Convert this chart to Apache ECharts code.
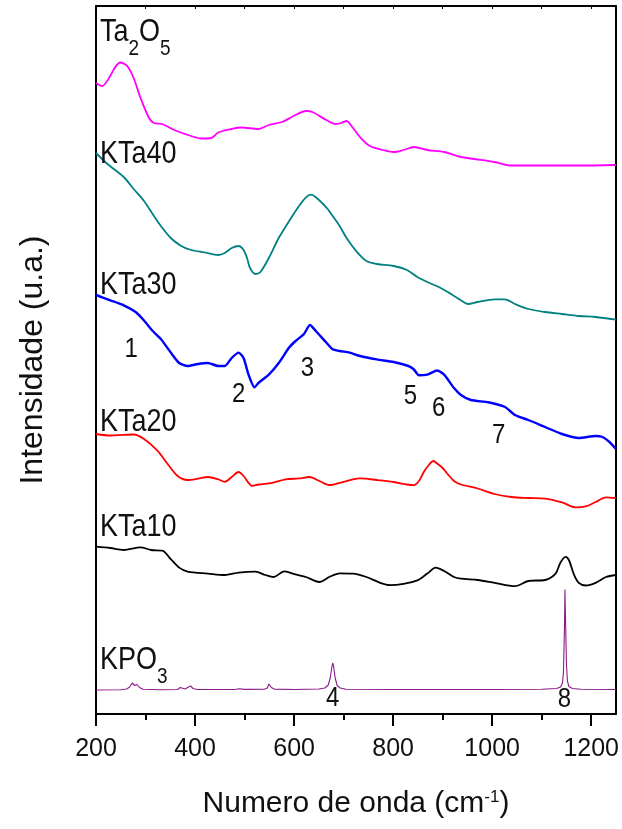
<!DOCTYPE html>
<html>
<head>
<meta charset="utf-8">
<script src="https://cdn.jsdelivr.net/npm/echarts@6/dist/echarts.min.js"></script>
<style>
  html, body { margin: 0; padding: 0; background: #ffffff; }
  #chart { width: 622px; height: 829px; }
</style>
</head>
<body>
<div id="chart"></div>
<script>
// Raman spectra, stacked with vertical offsets (arbitrary units).
// Each entry: [wavenumber (cm-1), intensity (u.a.)]
const ta2o5 = [[200,631],[212,628],[249,651.5],[263,648],[276,636],[290,616],[307,596],[317,591],[334,590],[358,584],[392,578],[413,575.5],[433,576],[447,581.5],[474,585],[494,586.5],[528,585],[549,589],[576,592],[597,597.5],[624,603],[637,602],[665,594],[685,590],[695,591],[706,593],[716,588],[733,577],[753,568],[780,564],[801,562],[821,564],[842,567],[869,564],[903,562],[937,557],[1005,552],[1039,548.5],[1107,548.5],[1175,548.5],[1250,549]];

const kta40 = [[200,561],[222,550.5],[256,537],[276,525],[297,513],[317,498],[331,488],[351,476],[372,468],[392,464],[419,461.6],[447,459],[460,461],[474,466],[488,468],[498,464],[505,456],[511,446],[522,440],[532,442],[549,456],[569,476],[590,493],[610,508],[624,516.7],[634,519.4],[644,516.7],[665,506.6],[678,498],[692,488],[706,476],[726,462.6],[746,453],[767,450],[801,448],[828,444],[849,437],[869,432],[896,426],[917,420],[937,413.7],[951,410],[971,412],[1005,414.7],[1026,414.7],[1046,410],[1073,405],[1107,402],[1141,400],[1175,398],[1209,397],[1250,394.4]];

const kta30 = [[200,419],[229,413.7],[256,408.7],[280,402],[297,393.5],[314,383.3],[331,375],[351,361.4],[368,351],[385,348],[406,350],[426,351],[447,348],[460,348],[474,356],[488,361.4],[498,356],[508,339.4],[520,326.6],[528,331],[549,339.4],[569,351],[590,366.4],[603,373],[620,380],[632,389],[644,383],[665,371.5],[678,364.7],[692,363],[712,361.4],[733,358],[767,354.6],[801,352],[831,348],[842,344.5],[852,338.7],[869,339.4],[889,343.5],[903,339.4],[923,326],[937,319],[957,314],[992,311.7],[1026,307],[1046,299],[1073,294],[1107,287],[1141,280],[1175,276],[1209,278],[1223,277],[1237,272],[1250,265]];

const kta20 = [[200,280],[229,278.5],[256,279.2],[276,279.5],[297,275],[324,263.3],[345,249.8],[365,238],[385,234],[406,235.3],[426,237],[447,234.6],[460,232.2],[474,237],[488,242],[498,238],[508,231.2],[515,228],[528,229.5],[556,231.2],[583,234.6],[610,235.6],[631,237],[651,233],[671,229],[692,231.2],[719,234.6],[733,235.6],[767,234],[801,232],[828,229.5],[842,228.9],[852,233],[862,242],[872,249],[881,253],[890,250],[900,246],[910,240],[923,233],[937,229.5],[971,225.5],[1005,220],[1039,217],[1073,216],[1107,215.4],[1141,211.6],[1169,206.6],[1189,207.6],[1209,212],[1230,216.7],[1250,216]];

const kta10 = [[200,167.4],[229,166],[256,164],[290,166.7],[311,164],[334,163.3],[351,154.9],[368,146.4],[385,142.4],[426,140.4],[460,139],[488,141.4],[522,142.4],[542,139],[559,137],[580,142.7],[597,140.4],[624,137],[651,132],[671,137],[692,140.7],[719,140.4],[746,137],[774,131.2],[794,128.9],[821,130.2],[849,133.6],[869,140.4],[886,146.4],[903,143],[923,137],[937,135.3],[971,134],[1005,131.2],[1046,127.9],[1073,133],[1107,134],[1128,140.4],[1138,151.5],[1148,157.2],[1155,154],[1165,139.7],[1175,131.2],[1189,128.5],[1209,131.2],[1230,137],[1250,139]];

const kpo3 = [[200,24],[250,24.3],[262,25],[268,27],[273,31],[278,28.5],[283,29.5],[288,26.5],[295,24.8],[330,24.3],[365,24.5],[370,26.5],[373,25.5],[380,25],[385,26.5],[391,28],[396,25.5],[405,24.5],[480,24.5],[490,25.2],[500,24.6],[540,24.8],[546,26],[549,30],[551,30.6],[554,26.5],[560,24.9],[600,24.5],[650,25],[662,26],[669,29],[673,36],[676,46],[678,51],[680,47],[683,36],[687,28.5],[693,26],[705,24.8],[800,24.5],[900,24.5],[1000,24.5],[1100,24.7],[1130,25.5],[1138,27],[1142,31],[1144,42],[1146,85],[1147,124.5],[1148,100],[1150,50],[1152,33],[1155,27.5],[1162,25.5],[1180,24.8],[1250,24.5]];

// Axis ticks
const xMajorTicks = [200, 400, 600, 800, 1000, 1200];
const xMinorTicks = [300, 500, 700, 900, 1100];
const xTopTicks = [300, 400, 500, 600, 700, 800, 900, 1000, 1100, 1200];

// Sample names: pieces of [text, isSubscript]
const sampleNames = [
  { parts: [['Ta', false], ['2', true], ['O', false], ['5', true]], at: [208, 697] },
  { parts: [['KTa40', false]], at: [208, 575] },
  { parts: [['KTa30', false]], at: [208, 444] },
  { parts: [['KTa20', false]], at: [208, 307] },
  { parts: [['KTa10', false]], at: [208, 202] },
  { parts: [['KPO', false], ['3', true]], at: [208, 69] }
];
const bandNumbers = [
  { text: '1', at: [271, 364] },
  { text: '2', at: [488, 319] },
  { text: '3', at: [627, 345] },
  { text: '4', at: [678, 15] },
  { text: '5', at: [835, 317] },
  { text: '6', at: [892, 305] },
  { text: '7', at: [1013, 278] },
  { text: '8', at: [1146, 14] }
];

const FONT = 'Liberation Sans, Arial, sans-serif';
const NAME_SIZE = 27;
const SUB_SIZE = 19;
const SUB_DROP = 21;
const TEXT_STRETCH = 1.13;

const chart = echarts.init(document.getElementById('chart'), null, { renderer: 'canvas' });

function line(name, data, color, width, smooth) {
  return {
    name, type: 'line', data, xAxisIndex: 0, yAxisIndex: 0,
    showSymbol: false, symbol: 'none', smooth: smooth,
    lineStyle: { color, width }, animation: false, z: 3
  };
}

const option = {
  backgroundColor: '#ffffff',
  animation: false,
  grid: { left: 96, right: 6, top: 6, bottom: 115, containLabel: false },
  xAxis: [
    {
      type: 'value', position: 'bottom', min: 200, max: 1250,
      axisLine: { show: true, onZero: false, lineStyle: { color: '#000', width: 2 } },
      axisTick: { show: true, customValues: xMajorTicks, length: 12, lineStyle: { color: '#000', width: 2 } },
      axisLabel: {
        show: true, customValues: xMajorTicks, fontFamily: FONT, fontSize: 25, color: '#111', margin: 23,
        formatter: (v) => String(v)
      },
      splitLine: { show: false },
      name: '{a|Numero de onda (cm}{p|-1}{a|)}',
      nameLocation: 'middle', nameGap: 75,
      nameTextStyle: {
        fontFamily: FONT, color: '#111',
        rich: {
          a: { fontFamily: FONT, fontSize: 30, lineHeight: 34, color: '#111', verticalAlign: 'top' },
          p: { fontFamily: FONT, fontSize: 17, lineHeight: 20, color: '#111', verticalAlign: 'top' }
        }
      }
    },
    {
      type: 'value', position: 'bottom', min: 200, max: 1250,
      axisLine: { show: false, onZero: false },
      axisTick: { show: true, customValues: xMinorTicks, length: 6, lineStyle: { color: '#000', width: 2 } },
      axisLabel: { show: false },
      splitLine: { show: false }
    },
    {
      type: 'value', position: 'top', min: 200, max: 1250,
      axisLine: { show: true, onZero: false, lineStyle: { color: '#000', width: 2 } },
      axisTick: { show: true, inside: true, customValues: xTopTicks, length: 3, lineStyle: { color: '#000', width: 1 } },
      axisLabel: { show: false },
      splitLine: { show: false }
    }
  ],
  yAxis: [
    {
      type: 'value', position: 'left', min: 0, max: 708,
      axisLine: { show: true, onZero: false, lineStyle: { color: '#000', width: 2 } },
      axisTick: { show: false },
      axisLabel: { show: false },
      splitLine: { show: false },
      name: 'Intensidade (u.a.)',
      nameLocation: 'middle', nameGap: 47,
      nameTextStyle: { fontFamily: FONT, fontSize: 32, color: '#111' }
    },
    {
      type: 'value', position: 'right', min: 0, max: 708,
      axisLine: { show: true, onZero: false, lineStyle: { color: '#000', width: 2 } },
      axisTick: { show: false },
      axisLabel: { show: false },
      splitLine: { show: false }
    }
  ],
  series: [
    line('Ta2O5', ta2o5, '#ff00ff', 1.8, 0.3),
    line('KTa40', kta40, '#008080', 1.8, 0.3),
    line('KTa30', kta30, '#0000ff', 2.4, 0.2),
    line('KTa20', kta20, '#ff0000', 1.8, 0.3),
    line('KTa10', kta10, '#000000', 1.8, 0.3),
    line('KPO3', kpo3, '#8b1a8b', 1.1, false)
  ]
};

chart.setOption(option);

// Text annotations anchored in data coordinates
const measureCtx = document.createElement('canvas').getContext('2d');
function textWidth(str, size) {
  measureCtx.font = size + 'px ' + FONT;
  return measureCtx.measureText(str).width;
}
const toPx = (pt) => chart.convertToPixel({ xAxisIndex: 0, yAxisIndex: 0 }, pt);
const graphics = [];
sampleNames.forEach((s) => {
  const p = toPx(s.at);
  let x = p[0];
  s.parts.forEach(([str, isSub]) => {
    const size = isSub ? SUB_SIZE : NAME_SIZE;
    graphics.push({
      type: 'text', x: x, y: p[1] + (isSub ? SUB_DROP : 0), scaleY: TEXT_STRETCH, z: 10,
      style: { text: str, align: 'left', verticalAlign: 'top', fontFamily: FONT, fontSize: size, fill: '#111' }
    });
    x += textWidth(str, size);
  });
});
bandNumbers.forEach((b) => {
  const p = toPx(b.at);
  graphics.push({
    type: 'text', x: p[0], y: p[1], scaleY: TEXT_STRETCH, z: 10,
    style: { text: b.text, align: 'center', verticalAlign: 'middle', fontFamily: FONT, fontSize: 24, fill: '#111' }
  });
});
chart.setOption({ graphic: graphics });
</script>
</body>
</html>
